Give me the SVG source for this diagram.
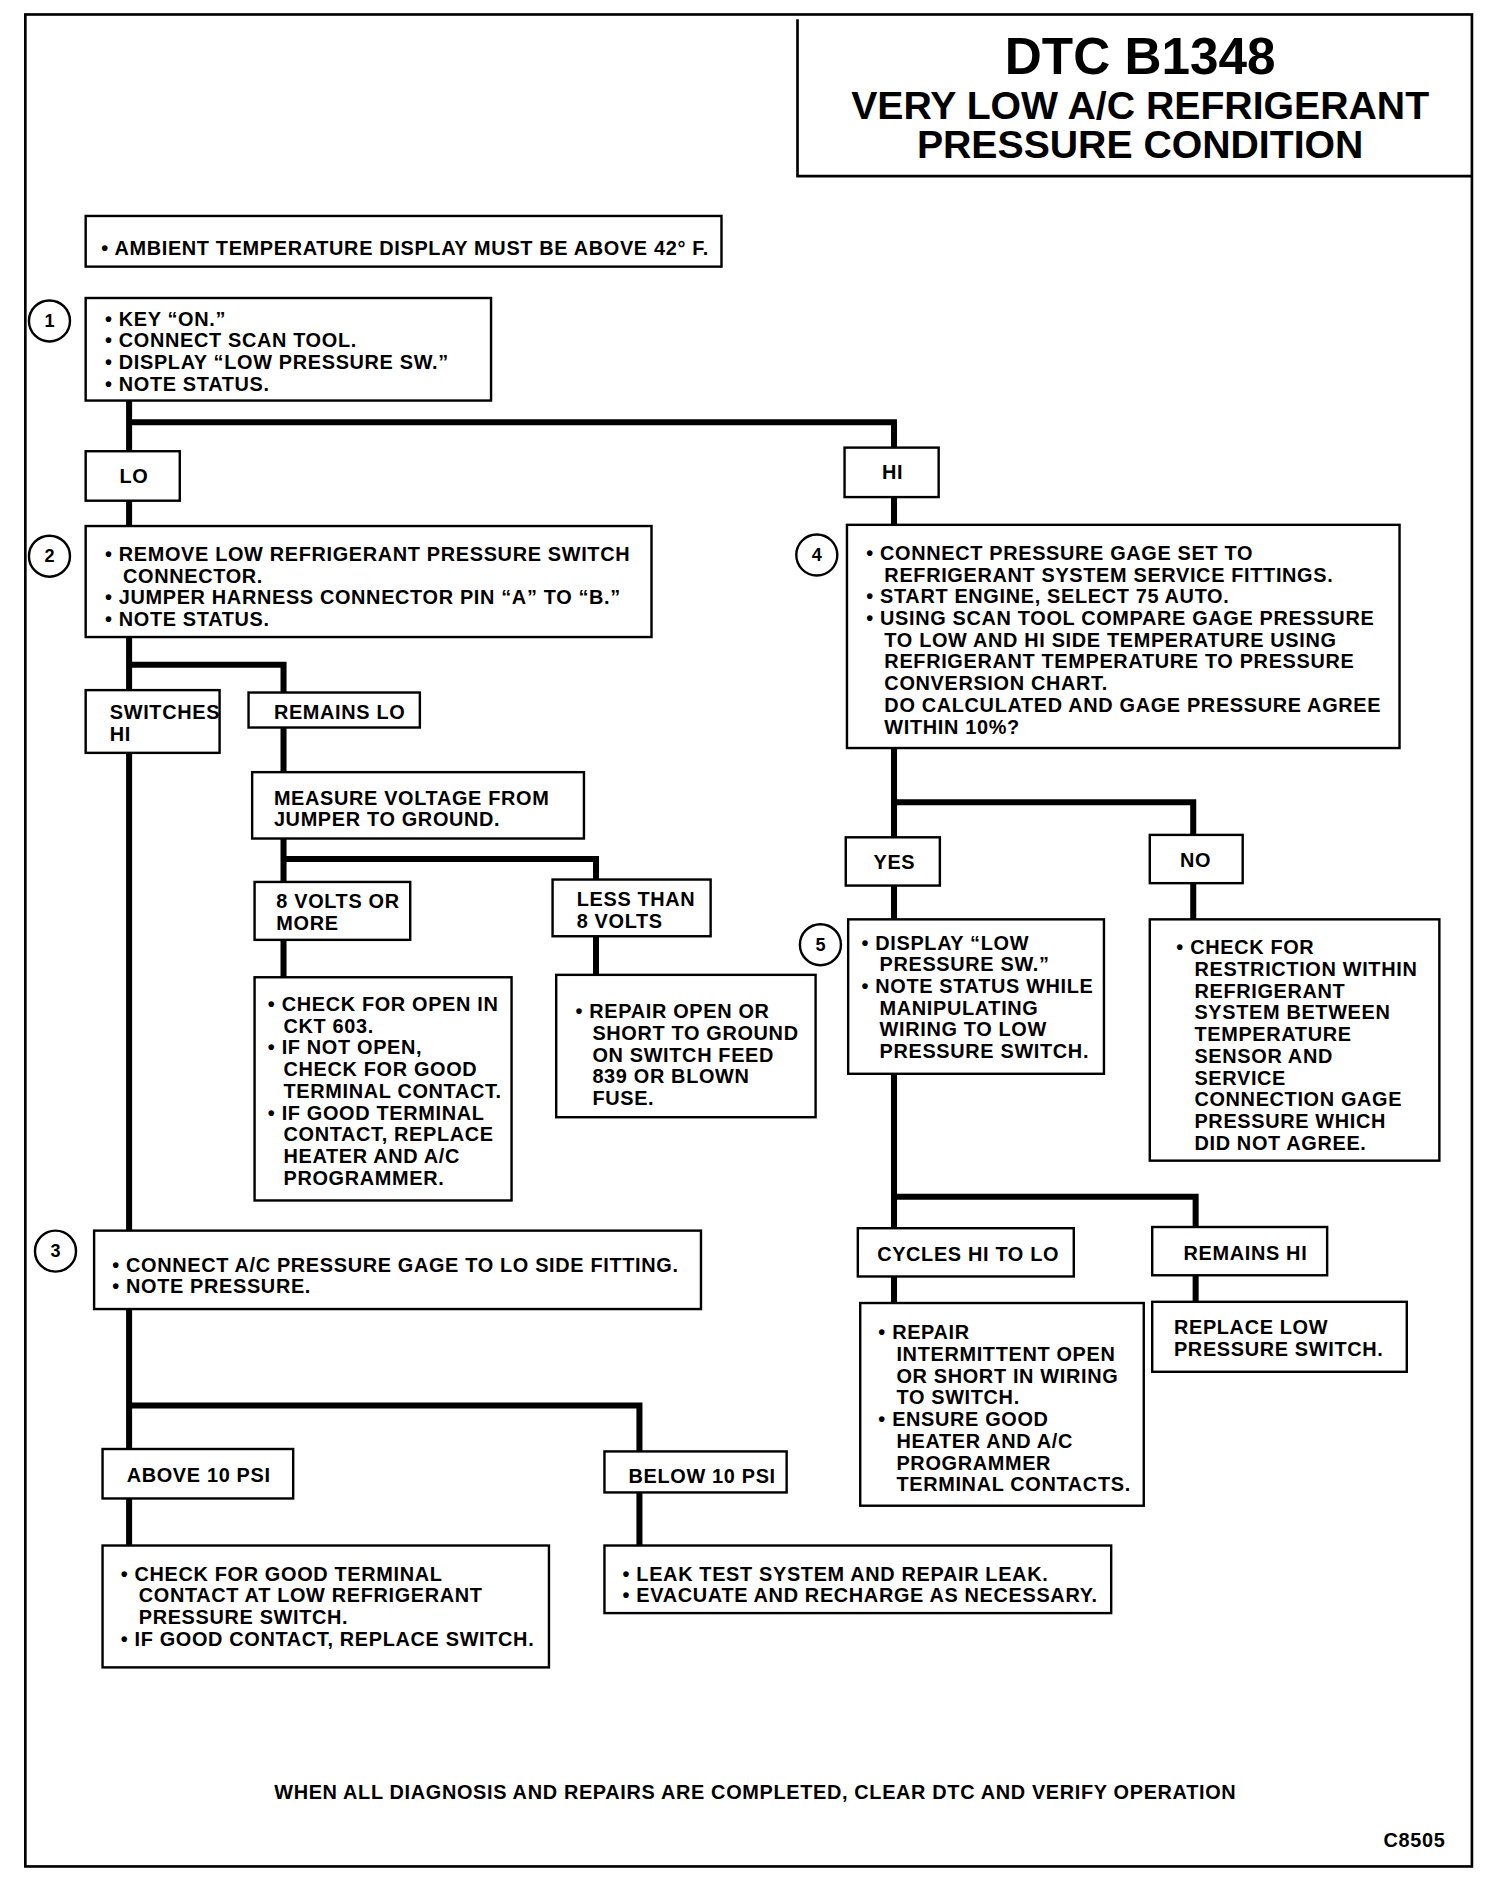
<svg xmlns="http://www.w3.org/2000/svg" width="1504" height="1892" viewBox="0 0 1504 1892">
<style>
.bx{fill:#fff;stroke:#000;stroke-width:2}
.fr{fill:none;stroke:#000;stroke-width:2.2}
.cn{fill:none;stroke:#000;stroke-width:5;stroke-linejoin:miter;stroke-linecap:butt}
.t{font-family:"Liberation Sans",Arial,Helvetica,sans-serif;font-weight:bold;font-size:16.5px;letter-spacing:0.55px;fill:#000}
.h1{font-family:"Liberation Sans",Arial,Helvetica,sans-serif;font-weight:bold;font-size:42.5px;fill:#000;text-anchor:middle}
.h2{font-family:"Liberation Sans",Arial,Helvetica,sans-serif;font-weight:bold;font-size:32.5px;fill:#000;text-anchor:middle}
.cnum{font-family:"Liberation Sans",Arial,Helvetica,sans-serif;font-weight:bold;font-size:15px;fill:#000;text-anchor:middle}
.ci{fill:#fff;stroke:#000;stroke-width:2}
</style>
<rect width="1504" height="1892" fill="#fff"/>
<g transform="scale(1.2065)">
<g id="frame">
<rect class="fr" x="21" y="12" width="1199" height="1535"/>
<polyline class="fr" points="661,16 661,146 1220,146"/>
</g>
<g id="title">
<text class="h1" x="945" y="61.5">DTC B1348</text>
<text class="h2" x="945" y="98.5">VERY LOW A/C REFRIGERANT</text>
<text class="h2" x="945" y="131">PRESSURE CONDITION</text>
</g>
<g id="connectors">
<polyline class="cn" points="107,332 107,374"/>
<polyline class="cn" points="107,350 741,350 741,371"/>
<polyline class="cn" points="107,415 107,436"/>
<polyline class="cn" points="107,528 107,572"/>
<polyline class="cn" points="107,551 235,551 235,574"/>
<polyline class="cn" points="107,624 107,1020"/>
<polyline class="cn" points="235,603 235,640"/>
<polyline class="cn" points="235,695 235,731"/>
<polyline class="cn" points="235,712 494,712 494,729"/>
<polyline class="cn" points="235,779 235,810"/>
<polyline class="cn" points="494,776 494,808"/>
<polyline class="cn" points="107,1085 107,1201"/>
<polyline class="cn" points="107,1165 530,1165 530,1203"/>
<polyline class="cn" points="107,1242 107,1281"/>
<polyline class="cn" points="530,1237 530,1281"/>
<polyline class="cn" points="741,412 741,435"/>
<polyline class="cn" points="741,620 741,694"/>
<polyline class="cn" points="741,665 989,665 989,692"/>
<polyline class="cn" points="741,734 741,762"/>
<polyline class="cn" points="989,732 989,762"/>
<polyline class="cn" points="741,890 741,1018"/>
<polyline class="cn" points="741,992 991,992 991,1017"/>
<polyline class="cn" points="741,1058 741,1080"/>
<polyline class="cn" points="991,1057 991,1079"/>
</g>
<g id="ambient">
<rect class="bx" x="71" y="179" width="527" height="42"/>
<text class="t" x="84" y="211">• AMBIENT TEMPERATURE DISPLAY MUST BE ABOVE 42° F.</text>
</g>
<g id="step1">
<circle class="ci" cx="41" cy="266" r="17"/>
<text class="cnum" x="41" y="271">1</text>
<rect class="bx" x="71" y="247" width="336" height="85"/>
<text class="t"><tspan x="87" y="270">• KEY “ON.”</tspan><tspan x="87" y="288">• CONNECT SCAN TOOL.</tspan><tspan x="87" y="306">• DISPLAY “LOW PRESSURE SW.”</tspan><tspan x="87" y="324">• NOTE STATUS.</tspan></text>
</g>
<g id="lo">
<rect class="bx" x="71" y="374" width="78" height="41"/>
<text class="t" x="99" y="400">LO</text>
</g>
<g id="hi">
<rect class="bx" x="700" y="371" width="78" height="41"/>
<text class="t" x="731" y="397">HI</text>
</g>
<g id="step2">
<circle class="ci" cx="41" cy="461" r="17"/>
<text class="cnum" x="41" y="466">2</text>
<rect class="bx" x="71" y="436" width="469" height="92"/>
<text class="t"><tspan x="87" y="465">• REMOVE LOW REFRIGERANT PRESSURE SWITCH</tspan><tspan x="102" y="483">CONNECTOR.</tspan><tspan x="87" y="501">• JUMPER HARNESS CONNECTOR PIN “A” TO “B.”</tspan><tspan x="87" y="519">• NOTE STATUS.</tspan></text>
</g>
<g id="switcheshi">
<rect class="bx" x="71" y="572" width="111" height="52"/>
<text class="t"><tspan x="91" y="596">SWITCHES</tspan><tspan x="91" y="614">HI</tspan></text>
</g>
<g id="remainslo">
<rect class="bx" x="206" y="574" width="142" height="29"/>
<text class="t" x="227" y="596">REMAINS LO</text>
</g>
<g id="measure">
<rect class="bx" x="209" y="640" width="275" height="55"/>
<text class="t"><tspan x="227" y="667">MEASURE VOLTAGE FROM</tspan><tspan x="227" y="685">JUMPER TO GROUND.</tspan></text>
</g>
<g id="volts8">
<rect class="bx" x="211" y="731" width="129" height="48"/>
<text class="t"><tspan x="229" y="753">8 VOLTS OR</tspan><tspan x="229" y="771">MORE</tspan></text>
</g>
<g id="lessthan">
<rect class="bx" x="458" y="729" width="131" height="47"/>
<text class="t"><tspan x="478" y="751">LESS THAN</tspan><tspan x="478" y="769">8 VOLTS</tspan></text>
</g>
<g id="checkopen">
<rect class="bx" x="211" y="810" width="213" height="185"/>
<text class="t"><tspan x="222" y="838">• CHECK FOR OPEN IN</tspan><tspan x="235" y="856">CKT 603.</tspan><tspan x="222" y="874">• IF NOT OPEN,</tspan><tspan x="235" y="892">CHECK FOR GOOD</tspan><tspan x="235" y="910">TERMINAL CONTACT.</tspan><tspan x="222" y="928">• IF GOOD TERMINAL</tspan><tspan x="235" y="946">CONTACT, REPLACE</tspan><tspan x="235" y="964">HEATER AND A/C</tspan><tspan x="235" y="982">PROGRAMMER.</tspan></text>
</g>
<g id="repairopen">
<rect class="bx" x="461" y="808" width="215" height="118"/>
<text class="t"><tspan x="477" y="844">• REPAIR OPEN OR</tspan><tspan x="491" y="862">SHORT TO GROUND</tspan><tspan x="491" y="880">ON SWITCH FEED</tspan><tspan x="491" y="898">839 OR BLOWN</tspan><tspan x="491" y="916">FUSE.</tspan></text>
</g>
<g id="step3">
<circle class="ci" cx="46" cy="1037" r="17"/>
<text class="cnum" x="46" y="1042">3</text>
<rect class="bx" x="78" y="1020" width="503" height="65"/>
<text class="t"><tspan x="93" y="1054">• CONNECT A/C PRESSURE GAGE TO LO SIDE FITTING.</tspan><tspan x="93" y="1072">• NOTE PRESSURE.</tspan></text>
</g>
<g id="above10">
<rect class="bx" x="85" y="1201" width="158" height="41"/>
<text class="t" x="105" y="1228">ABOVE 10 PSI</text>
</g>
<g id="below10">
<rect class="bx" x="501" y="1203" width="151" height="34"/>
<text class="t" x="521" y="1229">BELOW 10 PSI</text>
</g>
<g id="checkgood">
<rect class="bx" x="85" y="1281" width="370" height="101"/>
<text class="t"><tspan x="100" y="1310">• CHECK FOR GOOD TERMINAL</tspan><tspan x="115" y="1328">CONTACT AT LOW REFRIGERANT</tspan><tspan x="115" y="1346">PRESSURE SWITCH.</tspan><tspan x="100" y="1364">• IF GOOD CONTACT, REPLACE SWITCH.</tspan></text>
</g>
<g id="leak">
<rect class="bx" x="501" y="1281" width="420" height="56"/>
<text class="t"><tspan x="516" y="1310">• LEAK TEST SYSTEM AND REPAIR LEAK.</tspan><tspan x="516" y="1328">• EVACUATE AND RECHARGE AS NECESSARY.</tspan></text>
</g>
<g id="step4">
<circle class="ci" cx="677" cy="460" r="17"/>
<text class="cnum" x="677" y="465">4</text>
<rect class="bx" x="702" y="435" width="458" height="185"/>
<text class="t"><tspan x="718" y="464">• CONNECT PRESSURE GAGE SET TO</tspan><tspan x="733" y="482">REFRIGERANT SYSTEM SERVICE FITTINGS.</tspan><tspan x="718" y="500">• START ENGINE, SELECT 75 AUTO.</tspan><tspan x="718" y="518">• USING SCAN TOOL COMPARE GAGE PRESSURE</tspan><tspan x="733" y="536">TO LOW AND HI SIDE TEMPERATURE USING</tspan><tspan x="733" y="554">REFRIGERANT TEMPERATURE TO PRESSURE</tspan><tspan x="733" y="572">CONVERSION CHART.</tspan><tspan x="733" y="590">DO CALCULATED AND GAGE PRESSURE AGREE</tspan><tspan x="733" y="608">WITHIN 10%?</tspan></text>
</g>
<g id="yes">
<rect class="bx" x="701" y="694" width="78" height="40"/>
<text class="t" x="724" y="720">YES</text>
</g>
<g id="no">
<rect class="bx" x="953" y="692" width="77" height="40"/>
<text class="t" x="978" y="719">NO</text>
</g>
<g id="step5">
<circle class="ci" cx="680" cy="783" r="17"/>
<text class="cnum" x="680" y="788">5</text>
<rect class="bx" x="703" y="762" width="212" height="128"/>
<text class="t"><tspan x="714" y="787">• DISPLAY “LOW</tspan><tspan x="729" y="805">PRESSURE SW.”</tspan><tspan x="714" y="823">• NOTE STATUS WHILE</tspan><tspan x="729" y="841">MANIPULATING</tspan><tspan x="729" y="859">WIRING TO LOW</tspan><tspan x="729" y="877">PRESSURE SWITCH.</tspan></text>
</g>
<g id="restriction">
<rect class="bx" x="953" y="762" width="240" height="200"/>
<text class="t"><tspan x="975" y="791">• CHECK FOR</tspan><tspan x="990" y="809">RESTRICTION WITHIN</tspan><tspan x="990" y="827">REFRIGERANT</tspan><tspan x="990" y="845">SYSTEM BETWEEN</tspan><tspan x="990" y="863">TEMPERATURE</tspan><tspan x="990" y="881">SENSOR AND</tspan><tspan x="990" y="899">SERVICE</tspan><tspan x="990" y="917">CONNECTION GAGE</tspan><tspan x="990" y="935">PRESSURE WHICH</tspan><tspan x="990" y="953">DID NOT AGREE.</tspan></text>
</g>
<g id="cycles">
<rect class="bx" x="711" y="1018" width="179" height="40"/>
<text class="t" x="727" y="1045">CYCLES HI TO LO</text>
</g>
<g id="remainshi">
<rect class="bx" x="955" y="1017" width="145" height="40"/>
<text class="t" x="981" y="1044">REMAINS HI</text>
</g>
<g id="intermittent">
<rect class="bx" x="713" y="1080" width="235" height="168"/>
<text class="t"><tspan x="728" y="1110">• REPAIR</tspan><tspan x="743" y="1128">INTERMITTENT OPEN</tspan><tspan x="743" y="1146">OR SHORT IN WIRING</tspan><tspan x="743" y="1164">TO SWITCH.</tspan><tspan x="728" y="1182">• ENSURE GOOD</tspan><tspan x="743" y="1200">HEATER AND A/C</tspan><tspan x="743" y="1218">PROGRAMMER</tspan><tspan x="743" y="1236">TERMINAL CONTACTS.</tspan></text>
</g>
<g id="replacelow">
<rect class="bx" x="955" y="1079" width="211" height="58"/>
<text class="t"><tspan x="973" y="1106">REPLACE LOW</tspan><tspan x="973" y="1124">PRESSURE SWITCH.</tspan></text>
</g>
<g id="footer">
<text class="t" x="626" y="1491" text-anchor="middle">WHEN ALL DIAGNOSIS AND REPAIRS ARE COMPLETED, CLEAR DTC AND VERIFY OPERATION</text>
<text class="t" x="1198" y="1531" text-anchor="end">C8505</text>
</g>
</g>
</svg>
